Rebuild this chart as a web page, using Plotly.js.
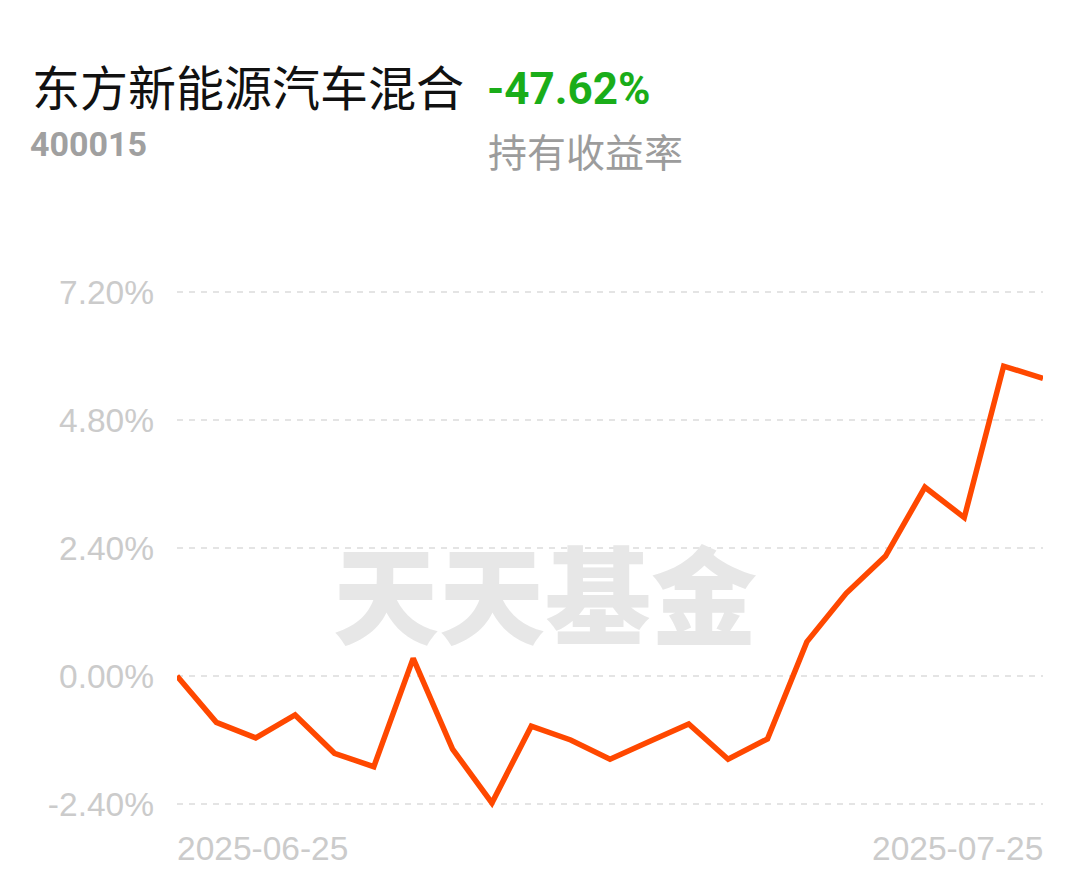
<!DOCTYPE html>
<html>
<head>
<meta charset="utf-8">
<script src="https://cdn.plot.ly/plotly-3.0.1.min.js"></script>
<style>
  html, body { margin: 0; padding: 0; background: #ffffff; }
  #chart { width: 1089px; height: 881px; }
</style>
</head>
<body>
<div id="chart"></div>
<script>
// ---- data ----
const dates = [
  '2025-06-25','2025-06-26','2025-06-27','2025-06-30',
  '2025-07-01','2025-07-02','2025-07-03','2025-07-04',
  '2025-07-07','2025-07-08','2025-07-09','2025-07-10','2025-07-11',
  '2025-07-14','2025-07-15','2025-07-16','2025-07-17','2025-07-18',
  '2025-07-21','2025-07-22','2025-07-23','2025-07-24','2025-07-25'
];
const returns = [
  0.00, -0.87, -1.16, -0.73,
  -1.45, -1.70, 0.33, -1.37,
  -2.38, -0.94, -1.20, -1.56, -1.23,
  -0.90, -1.56, -1.18, 0.64, 1.55,
  2.25, 3.54, 2.97, 5.81, 5.58
];
const yTickValues = [-2.4, 0, 2.4, 4.8, 7.2];
const yTickLabels = ['-2.40%', '0.00%', '2.40%', '4.80%', '7.20%'];
const xEdgeLabels = ['2025-06-25', '2025-07-25'];
const fundName = '东方新能源汽车混合';
const fundCode = '400015';
const holdReturn = '-47.62%';
const holdReturnLabel = '持有收益率';
const watermark = '天天基金';

// ---- layout helpers (pixel -> paper) ----
const W = 1089, H = 881;
const M = { l: 177, r: 46, t: 287, b: 72 };
const plotW = W - M.l - M.r, plotH = H - M.t - M.b;
const px = x => (x - M.l) / plotW;
const py = y => (H - M.b - y) / plotH;

const trace = {
  type: 'scatter',
  mode: 'lines',
  x: dates,
  y: returns,
  line: { color: '#ff4800', width: 5.5, shape: 'linear' },
  hoverinfo: 'skip'
};

const labelFont = { family: 'Liberation Sans, Arial, sans-serif', size: 33.5, color: '#cbcbcb' };

const layout = {
  width: W, height: H,
  margin: M,
  paper_bgcolor: '#ffffff',
  plot_bgcolor: '#ffffff',
  showlegend: false,
  xaxis: {
    type: 'category',
    range: [0, dates.length - 1],
    autorange: false,
    showgrid: false, zeroline: false, showline: false,
    showticklabels: false, ticks: ''
  },
  yaxis: {
    range: [-2.4 - 5 / 53.333, 7.2 + 5 / 53.333],
    autorange: false,
    tickvals: yTickValues,
    ticktext: yTickLabels,
    tickfont: labelFont,
    ticks: '',
    ticklabelstandoff: 22,
    showgrid: true,
    gridcolor: '#e4e4e4',
    gridwidth: 2,
    griddash: '6px,6px',
    zeroline: false,
    showline: false
  },
  annotations: [
    { text: watermark, xref: 'paper', yref: 'paper', x: px(545), y: py(590),
      xanchor: 'center', yanchor: 'middle', showarrow: false,
      font: { family: 'Noto Sans CJK SC', size: 106, color: '#e7e7e7', weight: 900 } },
    { text: xEdgeLabels[0], xref: 'x', yref: 'paper', x: xEdgeLabels[0], y: py(848),
      xanchor: 'left', yanchor: 'middle', showarrow: false, xshift: -2, font: labelFont },
    { text: xEdgeLabels[1], xref: 'x', yref: 'paper', x: xEdgeLabels[1], y: py(848),
      xanchor: 'right', yanchor: 'middle', showarrow: false, xshift: 2, font: labelFont },
    { text: fundName, xref: 'paper', yref: 'paper', x: px(30), y: py(85),
      xanchor: 'left', yanchor: 'middle', showarrow: false,
      font: { family: 'Noto Sans CJK SC', size: 48, color: '#111111' } },
    { text: fundCode, xref: 'paper', yref: 'paper', x: px(28), y: py(144),
      xanchor: 'left', yanchor: 'middle', showarrow: false,
      font: { family: 'Roboto', size: 34, color: '#a0a0a0', weight: 700 } },
    { text: holdReturn, xref: 'paper', yref: 'paper', x: px(485), y: py(89),
      xanchor: 'left', yanchor: 'middle', showarrow: false,
      font: { family: 'Roboto', size: 44, color: '#1aad19', weight: 700 } },
    { text: holdReturnLabel, xref: 'paper', yref: 'paper', x: px(486), y: py(150),
      xanchor: 'left', yanchor: 'middle', showarrow: false,
      font: { family: 'Noto Sans CJK SC', size: 39, color: '#9c9c9c' } }
  ]
};

Plotly.newPlot('chart', [trace], layout, { staticPlot: true, displayModeBar: false });
</script>
</body>
</html>
